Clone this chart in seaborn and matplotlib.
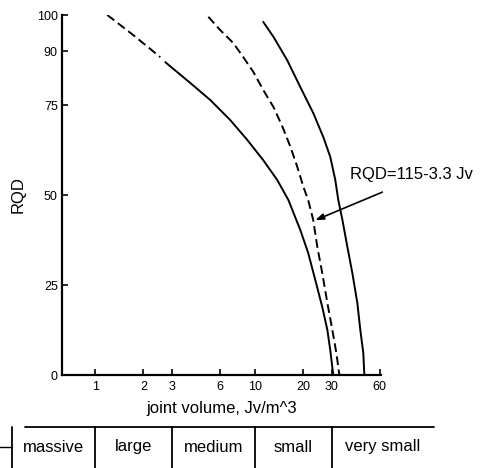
import numpy as np
import pandas as pd
import matplotlib
matplotlib.use("Agg")
import matplotlib.pyplot as plt
import matplotlib.transforms as mtransforms
import seaborn as sns

# ---------------- data ----------------
# lower bound curve: dashed upper part, then solid
lower_dash_jv = [1.19, 1.73, 2.55]
lower_dash_rqd = [100.0, 94.4, 88.3]
lower_jv = [2.74, 3.93, 5.23, 6.98, 8.91, 11.2, 13.7, 16.1, 19.1, 21.4, 23.7, 26.2, 28.2, 29.4, 30.7]
lower_rqd = [86.9, 81.1, 76.4, 70.8, 65.3, 59.7, 54.2, 48.6, 40.3, 33.9, 26.4, 18.9, 12.5, 6.9, 0.0]

# middle dashed curve (RQD = 115 - 3.3 Jv)
mid_jv = [5.09, 6.04, 7.29, 8.41, 9.72, 11.2, 13.0, 14.8, 16.6, 18.3, 20.0, 21.4, 23.0, 24.4, 26.2, 28.2, 30.3, 32.1, 33.5]
mid_rqd = [99.5, 95.8, 92.2, 88.3, 84.2, 79.2, 74.4, 68.9, 63.3, 57.8, 52.2, 48.6, 43.1, 35.6, 28.3, 20.0, 12.5, 6.1, 0.0]

# upper bound curve (solid)
upper_jv = [11.2, 13.0, 15.8, 19.1, 23.0, 26.6, 29.4, 31.6, 33.0, 35.0, 37.6, 40.4, 43.4, 45.3, 47.3, 48.0]
upper_rqd = [98.1, 93.9, 87.5, 80.0, 72.8, 66.1, 60.6, 54.2, 48.6, 43.1, 35.6, 28.3, 20.0, 12.5, 6.1, 0.0]

x_ticks = [1, 2, 3, 6, 10, 20, 30, 60]
y_ticks = [0, 25, 50, 75, 90, 100]

block_bounds = [0.3, 1, 3, 10, 30]
block_labels = ["massive", "large", "medium", "small", "very small"]
block_end = 130

annot_text = "RQD=115-3.3 Jv"

# ---------------- style ----------------
sns.set_style("ticks")
plt.rcParams["font.family"] = ["Liberation Sans", "DejaVu Sans"]
plt.rcParams["text.color"] = "black"
plt.rcParams["axes.labelcolor"] = "black"
plt.rcParams["xtick.color"] = "black"
plt.rcParams["ytick.color"] = "black"

fig = plt.figure(figsize=(4.83, 4.68), dpi=100)
ax = fig.add_axes([62 / 483, (468 - 375) / 468, (381 - 62) / 483, (375 - 15) / 468])
ax.set_xscale("log")

lw = 1.4
dash = (0, (4.5, 2.3))
sns.lineplot(x=lower_dash_jv, y=lower_dash_rqd, ax=ax, color="black", lw=lw, linestyle=dash)
sns.lineplot(x=lower_jv, y=lower_rqd, ax=ax, color="black", lw=lw)
sns.lineplot(x=mid_jv, y=mid_rqd, ax=ax, color="black", lw=lw, linestyle=dash)
sns.lineplot(x=upper_jv, y=upper_rqd, ax=ax, color="black", lw=lw)

ax.set_xlim(0.62, 61)
ax.set_ylim(0, 100)
ax.set_xticks(x_ticks)
ax.set_xticklabels([str(t) for t in x_ticks])
ax.xaxis.set_minor_locator(matplotlib.ticker.NullLocator())
ax.set_yticks(y_ticks)
ax.set_yticklabels([str(t) for t in y_ticks])

for s in ["top", "right"]:
    ax.spines[s].set_visible(False)
for s in ["left", "bottom"]:
    ax.spines[s].set_linewidth(1.6)
    ax.spines[s].set_color("black")

ax.tick_params(axis="both", direction="in", length=4, width=1.2, colors="black",
               labelcolor="black", labelsize=9)
ax.tick_params(axis="y", pad=3)
ax.tick_params(axis="x", pad=4)

ax.set_xlabel("joint volume, Jv/m^3", fontsize=12, labelpad=6, color="black")
ax.set_ylabel("RQD", fontsize=12, labelpad=8, color="black")

# annotation
ax.text(39.2, 55.6, annot_text, fontsize=12, ha="left", va="center", color="black", clip_on=False)
ax.annotate("", xy=(23.7, 43.0), xytext=(62.2, 50.8),
            arrowprops=dict(arrowstyle="-|>,head_length=0.5,head_width=0.18",
                            color="black", lw=1.2, shrinkA=0, shrinkB=0),
            annotation_clip=False)

# block size table below the axis (x in data coords, y in axes coords)
trans = mtransforms.blended_transform_factory(ax.transData, ax.transAxes)
y_top = (375 - 427) / 360
y_bot = (375 - 470) / 360
y_txt = (375 - 447) / 360
ax.plot([0.365, block_end], [y_top, y_top], transform=trans, color="black", lw=1.3, clip_on=False)
for b in block_bounds:
    ax.plot([b, b], [y_top, y_bot], transform=trans, color="black", lw=1.3, clip_on=False)
ax.plot([0.25, block_bounds[0]], [y_txt, y_txt], transform=trans, color="black", lw=1.0, clip_on=False)
edges = block_bounds + [block_end]
for i, lab in enumerate(block_labels):
    xc = np.sqrt(edges[i] * edges[i + 1])
    ax.text(xc, y_txt, lab, transform=trans, ha="center", va="center", fontsize=12,
            color="black", clip_on=False)

fig.savefig("out.png", dpi=100)
